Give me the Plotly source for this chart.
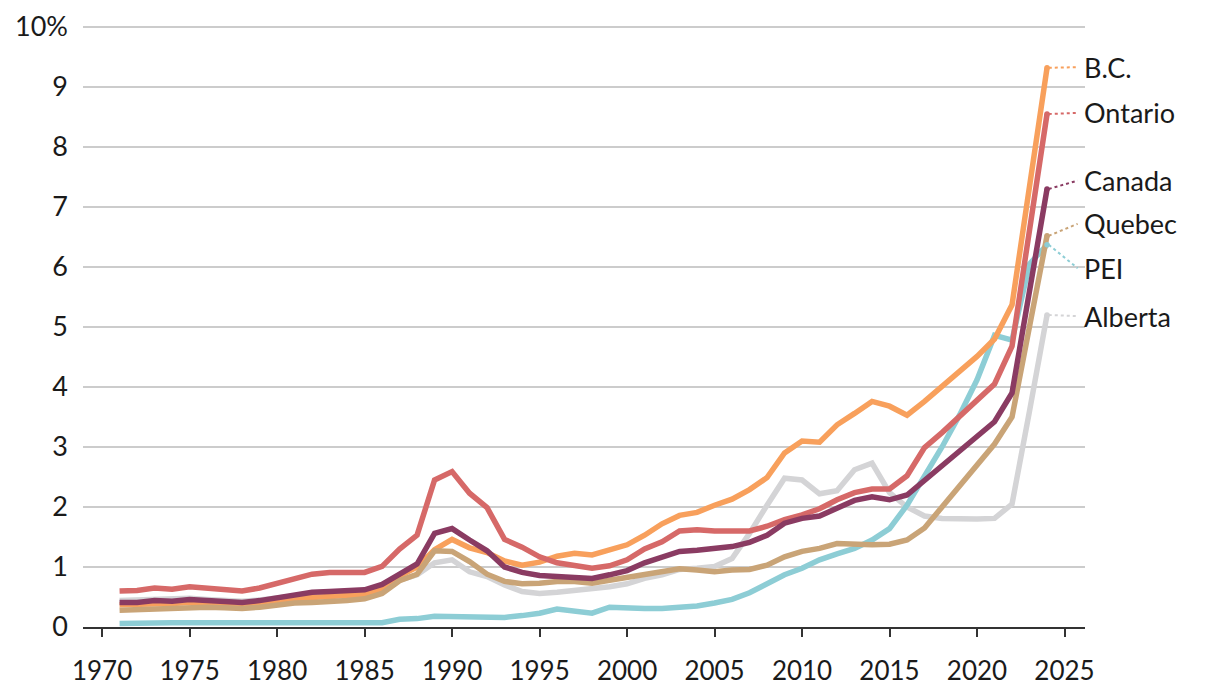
import plotly.graph_objects as go

years = list(range(1971, 2025))

ontario = [0.60, 0.61, 0.65, 0.63, 0.67, 0.65, 0.63, 0.60, 0.65, 0.72,
           0.79, 0.88, 0.91, 0.92, 0.91, 1.01, 1.30, 1.53, 2.45, 2.59,
           2.23, 1.99, 1.46, 1.33, 1.17, 1.07, 1.02, 0.98, 1.02, 1.12,
           1.30, 1.42, 1.60, 1.62, 1.60, 1.59, 1.60, 1.68, 1.79, 1.87,
           1.97, 2.12, 2.24, 2.30, 2.30, 2.52, 2.99, 3.24, 3.50, 3.77,
           4.05, 4.68, 6.60, 8.55]

canada = [0.41, 0.41, 0.44, 0.43, 0.46, 0.44, 0.43, 0.41, 0.44, 0.49,
          0.54, 0.58, 0.59, 0.61, 0.62, 0.71, 0.89, 1.05, 1.56, 1.64,
          1.45, 1.27, 1.00, 0.91, 0.86, 0.84, 0.83, 0.81, 0.87, 0.94,
          1.07, 1.16, 1.26, 1.28, 1.31, 1.34, 1.41, 1.53, 1.73, 1.81,
          1.85, 1.98, 2.11, 2.17, 2.12, 2.20, 2.45, 2.70, 2.95, 3.18,
          3.42, 3.90, 5.60, 7.30]

bc = [0.37, 0.37, 0.39, 0.39, 0.41, 0.40, 0.39, 0.37, 0.40, 0.44,
      0.47, 0.49, 0.50, 0.52, 0.54, 0.64, 0.85, 1.00, 1.29, 1.46,
      1.32, 1.24, 1.10, 1.03, 1.08, 1.18, 1.23, 1.20, 1.28, 1.37,
      1.53, 1.72, 1.86, 1.91, 2.03, 2.13, 2.29, 2.49, 2.90, 3.10,
      3.08, 3.37, 3.56, 3.76, 3.68, 3.53, 3.76, 4.00, 4.26, 4.51,
      4.80, 5.37, 7.35, 9.32]

quebec = [0.28, 0.29, 0.31, 0.31, 0.34, 0.33, 0.32, 0.31, 0.33, 0.37,
          0.40, 0.41, 0.42, 0.44, 0.47, 0.56, 0.77, 0.88, 1.27, 1.26,
          1.09, 0.88, 0.76, 0.72, 0.73, 0.76, 0.76, 0.73, 0.78, 0.83,
          0.88, 0.94, 0.97, 0.95, 0.92, 0.95, 0.96, 1.03, 1.17, 1.26,
          1.31, 1.39, 1.37, 1.37, 1.38, 1.45, 1.65, 2.00, 2.35, 2.70,
          3.05, 3.50, 5.00, 6.52]

pei = [0.06, 0.07, 0.07, 0.07, 0.07, 0.07, 0.07, 0.07, 0.08, 0.08,
       0.09, 0.09, 0.09, 0.08, 0.07, 0.07, 0.13, 0.14, 0.18, 0.17,
       0.17, 0.17, 0.16, 0.19, 0.23, 0.30, 0.26, 0.23, 0.33, 0.31,
       0.31, 0.31, 0.33, 0.35, 0.40, 0.46, 0.57, 0.73, 0.87, 0.98,
       1.12, 1.22, 1.31, 1.45, 1.64, 2.03, 2.50, 3.00, 3.53, 4.12,
       4.86, 4.78, 6.05, 6.37]

alberta = [0.44, 0.45, 0.47, 0.46, 0.48, 0.46, 0.45, 0.43, 0.45, 0.49,
           0.52, 0.55, 0.56, 0.56, 0.56, 0.60, 0.78, 0.87, 1.07, 1.12,
           0.92, 0.84, 0.70, 0.59, 0.56, 0.58, 0.61, 0.63, 0.67, 0.72,
           0.81, 0.87, 0.96, 0.98, 1.01, 1.14, 1.56, 2.03, 2.48, 2.45,
           2.22, 2.27, 2.62, 2.73, 2.24, 2.00, 1.85, 1.81, 1.80, 1.80,
           1.81, 2.05, 3.60, 5.20]

x_ticks = [1970, 1975, 1980, 1985, 1990, 1995, 2000, 2005, 2010, 2015, 2020, 2025]
y_ticks = [0, 1, 2, 3, 4, 5, 6, 7, 8, 9, 10]
y_tick_labels = ["0", "1", "2", "3", "4", "5", "6", "7", "8", "9", "10%"]

# drawing order bottom -> top
series = [
    ("Alberta", alberta, "#D4D4D6", 5.18),
    ("PEI", pei, "#8DCDD5", 5.98),
    ("B.C.", bc, "#F8A05C", 9.33),
    ("Quebec", quebec, "#C9A477", 6.72),
    ("Ontario", ontario, "#D66968", 8.57),
    ("Canada", canada, "#8A3B62", 7.44),
]

FONT = "Lato"
fig = go.Figure()

for name, vals, color, ly in series:
    fig.add_trace(go.Scatter(
        x=years, y=vals, mode="lines", name=name,
        line=dict(color=color, width=5.5, shape="linear"),
        hoverinfo="skip", showlegend=False,
    ))

for name, vals, color, ly in series:
    fig.add_trace(go.Scatter(
        x=[years[-1] + 0.1, 2025.75], y=[vals[-1], ly], mode="lines",
        line=dict(color=color, width=2, dash="3px,3px"),
        hoverinfo="skip", showlegend=False, cliponaxis=False,
    ))
    fig.add_trace(go.Scatter(
        x=[years[-1]], y=[vals[-1]], mode="markers",
        marker=dict(color=color, size=5.5, line=dict(width=0)),
        hoverinfo="skip", showlegend=False, cliponaxis=False,
    ))
    fig.add_annotation(
        x=2026.0, y=ly, xref="x", yref="y", text=name, showarrow=False,
        xanchor="left", yanchor="middle",
        font=dict(family=FONT, size=27, color="#1a1a1a"),
    )

fig.update_layout(
    width=1212, height=684,
    margin=dict(l=75, r=135, t=16, b=65),
    paper_bgcolor="white", plot_bgcolor="white",
    font=dict(family=FONT, size=27, color="#1a1a1a"),
    xaxis=dict(
        range=[1968.91, 2026.17], tickmode="array", tickvals=x_ticks,
        ticks="outside", ticklen=8, tickwidth=1.5, tickcolor="#333333",
        showline=True, linecolor="#333333", linewidth=2,
        showgrid=False, zeroline=False, ticklabelstandoff=12, automargin=False,
        tickfont=dict(family=FONT, size=26, color="#1a1a1a"),
    ),
    yaxis=dict(
        range=[0, 10.05], tickmode="array", tickvals=y_ticks, ticktext=y_tick_labels,
        showgrid=True, gridcolor="#CCCCCC", gridwidth=1.5,
        showline=False, zeroline=False, ticks="", ticklabelstandoff=14, automargin=False,
        tickfont=dict(family=FONT, size=27, color="#1a1a1a"),
    ),
)

fig.write_html("out.html")
